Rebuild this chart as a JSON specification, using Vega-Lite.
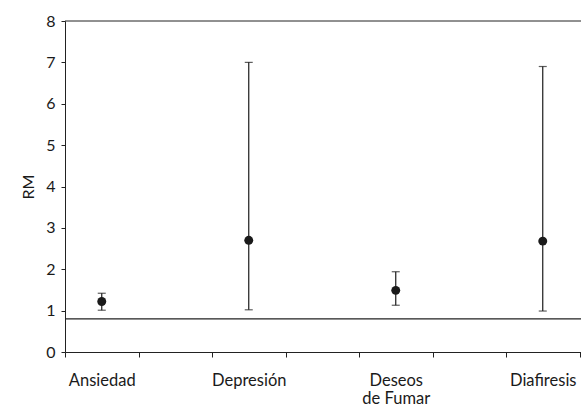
{
  "$schema": "https://vega.github.io/schema/vega-lite/v6.json",
  "width": 588,
  "height": 331,
  "autosize": "none",
  "padding": {"left": 65, "top": 21, "right": 0, "bottom": 55},
  "background": "white",
  "config": {
    "view": {"stroke": null},
    "font": "Lato",
    "axis": {"labelFont": "Lato", "titleFont": "Lato", "labelColor": "#1a1a1a", "titleColor": "#1a1a1a", "domainColor": "#222", "tickColor": "#222", "grid": false}
  },
  "data": {
    "values": [
      {"cat": "Ansiedad", "pos": 0.5, "rm": 1.22, "lo": 1.01, "hi": 1.42},
      {"cat": "Depresión", "pos": 2.5, "rm": 2.7, "lo": 1.02, "hi": 7.0},
      {"cat": "Deseos de Fumar", "pos": 4.5, "rm": 1.49, "lo": 1.13, "hi": 1.94},
      {"cat": "Diafiresis", "pos": 6.5, "rm": 2.68, "lo": 0.99, "hi": 6.9}
    ]
  },
  "encoding": {
    "x": {"field": "pos", "type": "quantitative", "scale": {"domain": [0, 8], "nice": false, "zero": false}, "axis": null}
  },
  "layer": [
    {
      "mark": {"type": "rule", "color": "#1a1a1a", "strokeWidth": 1.2},
      "encoding": {
        "x": {"field": "pos", "type": "quantitative", "scale": {"domain": [0, 8], "nice": false, "zero": false}, "axis": {"values": [0,1,2,3,4,5,6,7,8], "labels": false, "tickSize": 5, "domainWidth": 1, "title": null, "orient": "bottom"}},
        "y": {"field": "lo", "type": "quantitative", "scale": {"domain": [0, 8], "nice": false}, "axis": {"values": [0,1,2,3,4,5,6,7,8], "tickSize": 4, "labelFontSize": 16, "labelPadding": 6, "title": "RM", "titleFontSize": 16, "titleFontWeight": "normal", "titlePadding": 9}},
        "y2": {"field": "hi"}
      }
    },
    {
      "mark": {"type": "tick", "orient": "horizontal", "size": 8, "thickness": 1.2, "color": "#1a1a1a"},
      "encoding": {
        "x": {"field": "pos", "type": "quantitative", "scale": {"domain": [0, 8], "nice": false, "zero": false}, "axis": {"values": [0.5, 2.5, 4.5, 6.5], "ticks": false, "domain": false, "labelFontSize": 16.5, "labelPadding": 20, "title": null, "orient": "bottom", "labelExpr": "datum.value == 0.5 ? 'Ansiedad' : datum.value == 2.5 ? 'Depresión' : datum.value == 4.5 ? ['Deseos', 'de Fumar'] : 'Diafiresis'"}},
        "y": {"field": "lo", "type": "quantitative"}
      }
    },
    {
      "mark": {"type": "tick", "orient": "horizontal", "size": 8, "thickness": 1.2, "color": "#1a1a1a"},
      "encoding": {
        "y": {"field": "hi", "type": "quantitative"}
      }
    },
    {
      "mark": {"type": "circle", "size": 80, "color": "#1a1a1a", "opacity": 1},
      "encoding": {
        "y": {"field": "rm", "type": "quantitative"}
      }
    },
    {
      "data": {"values": [{"ref": 0.8}]},
      "mark": {"type": "rule", "color": "#222", "strokeWidth": 1.2},
      "encoding": {"x": null, "y": {"field": "ref", "type": "quantitative"}}
    },
    {
      "data": {"values": [{"top": 8}]},
      "mark": {"type": "rule", "color": "#222", "strokeWidth": 1},
      "encoding": {"x": null, "y": {"field": "top", "type": "quantitative"}}
    }
  ],
  "resolve": {"axis": {"x": "independent"}}
}
